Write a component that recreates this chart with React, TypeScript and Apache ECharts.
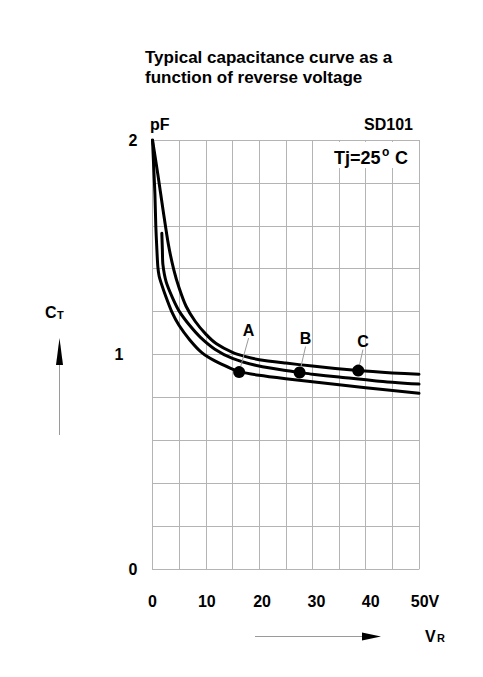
import React, { useEffect, useRef } from "react";
import * as echarts from "echarts";

const FONT = "'Liberation Sans', Arial, Helvetica, sans-serif";

// Curve C (upper)
const curveC_V = [0, 1, 2, 3, 4, 5, 6.3, 8, 10, 12, 15, 17.5, 20, 25, 30, 38.6, 45, 50];
const curveC_pF = [2.0, 1.84, 1.67, 1.51, 1.395, 1.31, 1.225, 1.155, 1.095, 1.05, 1.01, 0.99, 0.976, 0.96, 0.946, 0.925, 0.914, 0.908];

// Curve B (middle)
const curveB_V = [1.75, 1.85, 1.95, 2.55, 3.8, 5.06, 7, 9, 11.7, 15, 20, 25, 27.6, 30, 35, 42, 50];
const curveB_pF = [1.565, 1.49, 1.42, 1.34, 1.262, 1.2, 1.135, 1.08, 1.025, 0.982, 0.946, 0.925, 0.916, 0.908, 0.895, 0.877, 0.862];

// Curve A (lower)
const curveA_V = [0, 0.25, 0.45, 0.62, 0.8, 1.0, 1.25, 1.6, 2.5, 3.6, 5, 7, 9.2, 11.7, 15, 16.25, 20, 25, 30, 40, 50];
const curveA_pF = [2.0, 1.86, 1.75, 1.6, 1.5, 1.41, 1.365, 1.335, 1.27, 1.2, 1.135, 1.068, 1.01, 0.97, 0.932, 0.92, 0.903, 0.887, 0.873, 0.845, 0.819];

// Marked points
const markerNames = ["A", "B", "C"];
const markerV = [16.25, 27.6, 38.6];
const markerPF = [0.918, 0.916, 0.925];

const xTickLabels: Record<number, string> = { 0: "0", 10: "10", 20: "20", 30: "30", 40: "40", 50: "50V" };
const yTickLabels: Record<number, string> = { 0: "0", 1: "1", 2: "2" };

const zip = (xs: number[], ys: number[]) => xs.map((x, i) => [x, ys[i]]);

export default function App() {
  const ref = useRef<HTMLDivElement>(null);

  useEffect(() => {
    if (!ref.current) return;
    const chart = echarts.init(ref.current, undefined, { renderer: "svg" });
    const gridColor = "#b4b4b4";
    const lineStyle = { color: "#000", width: 3, join: "round" as const, cap: "round" as const };
    const xShift: Record<number, number> = { 0: 0, 10: 1, 20: 3, 30: 4, 40: 5, 50: 6 };
    const labelDx = [9.5, 6, 4.7];
    const labelDy = [-42, -34, -29];

    chart.setOption({
      animation: false,
      backgroundColor: "#fff",
      title: {
        text: "Typical capacitance curve as a\nfunction of reverse voltage",
        left: 140,
        top: 42,
        textStyle: { fontFamily: FONT, fontSize: 17, fontWeight: "bold", color: "#000", lineHeight: 20 },
      },
      grid: { left: 152.5, right: 64, top: 140, bottom: 108, containLabel: false },
      xAxis: {
        type: "value",
        min: 0,
        max: 50,
        interval: 5,
        axisLine: { show: true, lineStyle: { color: gridColor, width: 1 } },
        axisTick: { show: false },
        splitLine: { show: true, lineStyle: { color: gridColor, width: 1 } },
        axisLabel: {
          margin: 24,
          formatter: (v: number) => {
            const r = Math.round(v);
            if (Math.abs(v - r) > 1e-6 || xTickLabels[r] === undefined) return "";
            return `{s${r}|${xTickLabels[r]}}`;
          },
          rich: Object.fromEntries(
            Object.keys(xShift).map((k) => [
              `s${k}`,
              {
                fontFamily: FONT,
                fontSize: 16,
                fontWeight: "bold",
                color: "#000",
                padding: [0, 0, 0, xShift[Number(k)] * 2],
              },
            ])
          ),
        },
      },
      yAxis: {
        type: "value",
        min: 0,
        max: 2,
        interval: 0.2,
        axisLine: { show: true, lineStyle: { color: gridColor, width: 1 } },
        axisTick: { show: false },
        splitLine: { show: true, lineStyle: { color: gridColor, width: 1 } },
        axisLabel: {
          margin: 15,
          formatter: (v: number) => {
            const r = Math.round(v);
            if (Math.abs(v - r) > 1e-6 || yTickLabels[r] === undefined) return "";
            return r === 1 ? `{one|${yTickLabels[r]}}` : `{n|${yTickLabels[r]}}`;
          },
          rich: {
            n: { fontFamily: FONT, fontSize: 16, fontWeight: "bold", color: "#000" },
            one: { fontFamily: FONT, fontSize: 16, fontWeight: "bold", color: "#000", padding: [0, 14, 0, 0] },
          },
        },
      },
      series: [
        { type: "line", data: zip(curveC_V, curveC_pF), showSymbol: false, smooth: 0.25, lineStyle, z: 3 },
        { type: "line", data: zip(curveB_V, curveB_pF), showSymbol: false, smooth: 0.25, lineStyle, z: 3 },
        { type: "line", data: zip(curveA_V, curveA_pF), showSymbol: false, smooth: 0.25, lineStyle, z: 3 },
        {
          type: "scatter",
          symbolSize: 12,
          itemStyle: { color: "#000", opacity: 1 },
          z: 4,
          data: markerNames.map((n, i) => ({ name: n, value: [markerV[i], markerPF[i]] })),
          label: {
            show: true,
            position: "inside",
            formatter: "{b}",
            fontFamily: FONT,
            fontSize: 16,
            fontWeight: "bold",
            color: "#000",
            opacity: 1,
          },
          labelLayout: (p: any) => ({ dx: labelDx[p.dataIndex], dy: labelDy[p.dataIndex] }),
          labelLine: { show: true, lineStyle: { color: "#9a9a9a", width: 1, opacity: 1 } },
        },
      ],
      graphic: [
        { type: "text", left: 150, top: 116, style: { text: "pF", font: `bold 16px ${FONT}`, fill: "#000" } },
        { type: "text", right: 70, top: 116, style: { text: "SD101", font: `bold 16px ${FONT}`, fill: "#000" } },
        { type: "rect", shape: { x: 329, y: 142, width: 84, height: 26 }, style: { fill: "#fff" }, z: 10 },
        { type: "text", x: 334, y: 158, z: 11, style: { text: "Tj=25", font: `bold 18px ${FONT}`, fill: "#000", verticalAlign: "middle" } },
        { type: "text", x: 382, y: 152, z: 11, style: { text: "o", font: `bold 12px ${FONT}`, fill: "#000", verticalAlign: "middle" } },
        { type: "text", x: 395, y: 158, z: 11, style: { text: "C", font: `bold 18px ${FONT}`, fill: "#000", verticalAlign: "middle" } },
        { type: "text", x: 45, y: 312.5, style: { text: "C", font: `bold 16px ${FONT}`, fill: "#000", verticalAlign: "middle" } },
        { type: "text", x: 57, y: 314.5, style: { text: "T", font: `bold 11px ${FONT}`, fill: "#000", verticalAlign: "middle" } },
        { type: "polygon", shape: { points: [[59.5, 338], [56, 365], [63, 365]] }, style: { fill: "#000" } },
        { type: "line", shape: { x1: 59.5, y1: 365, x2: 59.5, y2: 435 }, style: { stroke: "#9a9a9a", lineWidth: 1 } },
        { type: "line", shape: { x1: 255, y1: 636.5, x2: 364, y2: 636.5 }, style: { stroke: "#9a9a9a", lineWidth: 1 } },
        { type: "polygon", shape: { points: [[362, 632.5], [381, 636.5], [362, 640.5]] }, style: { fill: "#000" } },
        { type: "text", x: 425, y: 636, style: { text: "V", font: `bold 16px ${FONT}`, fill: "#000", verticalAlign: "middle" } },
        { type: "text", x: 437, y: 638, style: { text: "R", font: `bold 11px ${FONT}`, fill: "#000", verticalAlign: "middle" } },
      ],
    });

    return () => chart.dispose();
  }, []);

  return (
    <div
      ref={ref}
      style={{ position: "fixed", left: 0, top: 0, width: 483, height: 677, background: "#fff" }}
    />
  );
}
